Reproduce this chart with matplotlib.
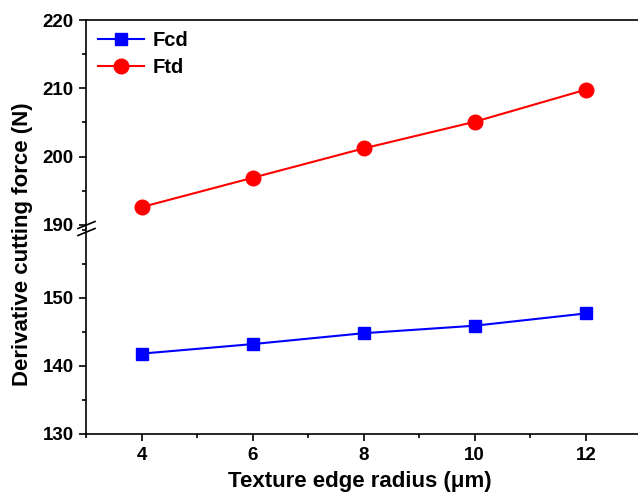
import matplotlib
matplotlib.use("Agg")
import matplotlib.pyplot as plt
from matplotlib.ticker import MultipleLocator

plt.rcParams['font.family'] = ['Liberation Sans', 'DejaVu Sans']
plt.rcParams['font.weight'] = 'bold'

radius = [4, 6, 8, 10, 12]
fcd = [141.8, 143.2, 144.8, 145.9, 147.7]
ftd = [192.6, 196.9, 201.2, 205.1, 209.8]

fig = plt.figure(figsize=(6.38, 4.95), dpi=100)
left, right = 86 / 638, 1.0
top, brk, bottom = 1 - 20 / 495, 1 - 229 / 495, 1 - 434 / 495
ax_top = fig.add_axes([left, brk, right - left, top - brk])
ax_bot = fig.add_axes([left, bottom, right - left, brk - bottom], sharex=ax_top)

for ax in (ax_top, ax_bot):
    ax.plot(radius, fcd, color='blue', marker='s', markersize=9, lw=1.5, label='Fcd')
    ax.plot(radius, ftd, color='red', marker='o', markersize=10.5, lw=1.5, label='Ftd')
    ax.tick_params(axis='both', which='major', direction='out', length=5, width=1.2,
                   labelsize=13.5, pad=4)
    ax.tick_params(axis='both', which='minor', direction='out', length=3, width=1.2)
    for s in ax.spines.values():
        s.set_linewidth(1.2)
    ax.spines['right'].set_visible(False)
    ax.xaxis.set_major_locator(MultipleLocator(2))
    ax.xaxis.set_minor_locator(MultipleLocator(1))
    ax.yaxis.set_major_locator(MultipleLocator(10))
    ax.yaxis.set_minor_locator(MultipleLocator(5))
    for lbl in ax.get_xticklabels() + ax.get_yticklabels():
        lbl.set_fontweight('bold')

ax_top.set_xlim(3, 12.94)
ax_top.set_ylim(189.4, 220)
ax_bot.set_ylim(130, 160.1)
ax_top.set_yticks([190, 200, 210, 220])
ax_bot.set_yticks([130, 140, 150])

ax_top.spines['bottom'].set_visible(False)
ax_bot.spines['top'].set_visible(False)
ax_top.tick_params(axis='x', which='both', bottom=False, labelbottom=False)

# axis break marks on the left spine
fw, fh = 638, 495
cx, cy = 86, 228.5
for dy in (-3.5, 3.5):
    x0, x1 = (cx - 8) / fw, (cx + 9) / fw
    y0, y1 = 1 - (cy + dy + 3.5) / fh, 1 - (cy + dy - 3.5) / fh
    fig.add_artist(plt.Line2D([x0, x1], [y0, y1], color='black', lw=1.2,
                              transform=fig.transFigure))

leg = ax_top.legend(loc='upper left', frameon=False, prop={'weight': 'bold', 'size': 14.5},
                    handlelength=2.3, handletextpad=0.4, borderaxespad=0.2,
                    labelspacing=0.4, bbox_to_anchor=(0.0, 1.005))

fig.text(0.036, 1 - 244 / 495, 'Derivative cutting force (N)', rotation=90,
         ha='center', va='center', fontsize=16, fontweight='bold')
fig.text(360 / 638, 1 - 482 / 495, 'Texture edge radius (\u03bcm)', ha='center', va='center',
         fontsize=16, fontweight='bold')

fig.savefig('out.png', dpi=100)
